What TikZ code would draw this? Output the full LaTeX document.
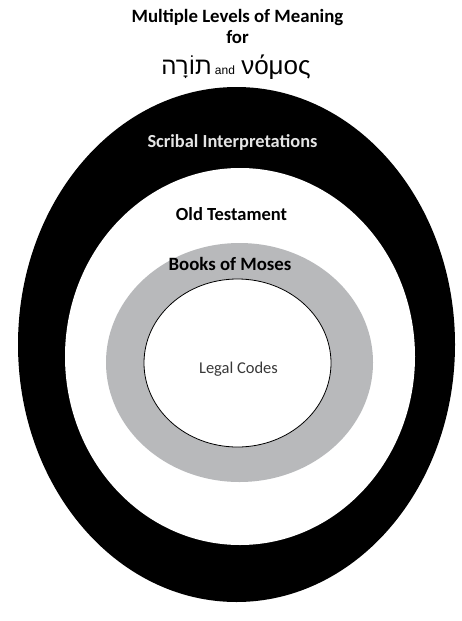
\documentclass[tikz,border=0pt]{standalone}
\usepackage{fontspec}
\setmainfont{Carlito}
\newfontfamily\hebfont[Script=Hebrew]{Liberation Sans}
\newfontfamily\grkfont{Liberation Sans}
\TeXXeTstate=1
\definecolor{ringgray}{rgb}{0.72,0.725,0.735}
\definecolor{paleword}{rgb}{0.9,0.9,0.9}
\definecolor{codegray}{rgb}{0.22,0.22,0.22}

\begin{document}
\begin{tikzpicture}[x=1pt,y=1pt,yscale=-1,every node/.style={inner sep=0pt,anchor=base}]
			\useasboundingbox (0,0) rectangle (461,621);
			\fill[white] (0,0) rectangle (461,621);
			
			% rings, outside in
			\fill[black]    (236.5,344.5) ellipse [x radius=218.5pt, y radius=257.5pt];
			\fill[white]    (240,356.5) ellipse [x radius=175pt, y radius=188.5pt];
			\fill[ringgray] (239.5,362.5) ellipse [x radius=133.5pt, y radius=119.5pt];
			\draw[fill=white,thick] (237.5,363) ellipse [x radius=93.5pt, y radius=84pt];
			
			% title
			\node (title) at (237.5,22) {\fontsize{18.8}{22}\selectfont\bfseries Multiple Levels of Meaning};
			\node (for) at (237.5,43) {\fontsize{18.8}{22}\selectfont\bfseries for};
			\node (hebrew) at (186.5,74) {\fontsize{24}{28}\selectfont\hebfont\beginR תוֹרָה\endR};
			\node (and) at (225,74) {\fontsize{12}{14}\selectfont\grkfont and};
			\node (greek) at (276,74) {\fontsize{26}{30}\selectfont\grkfont νόμος};
			
			% ring labels
			\node[text=paleword] (scribal) at (232.5,147) {\fontsize{18.4}{22}\selectfont\bfseries Scribal Interpretations};
			\node (oldtest) at (231.5,220) {\fontsize{18.5}{22}\selectfont\bfseries Old Testament};
			\node (moses) at (230,270) {\fontsize{18.8}{22}\selectfont\bfseries Books of Moses};
			\node[text=codegray] (legal) at (238.5,373) {\fontsize{16.5}{20}\selectfont Legal Codes};
			\end{tikzpicture}
\end{document}
